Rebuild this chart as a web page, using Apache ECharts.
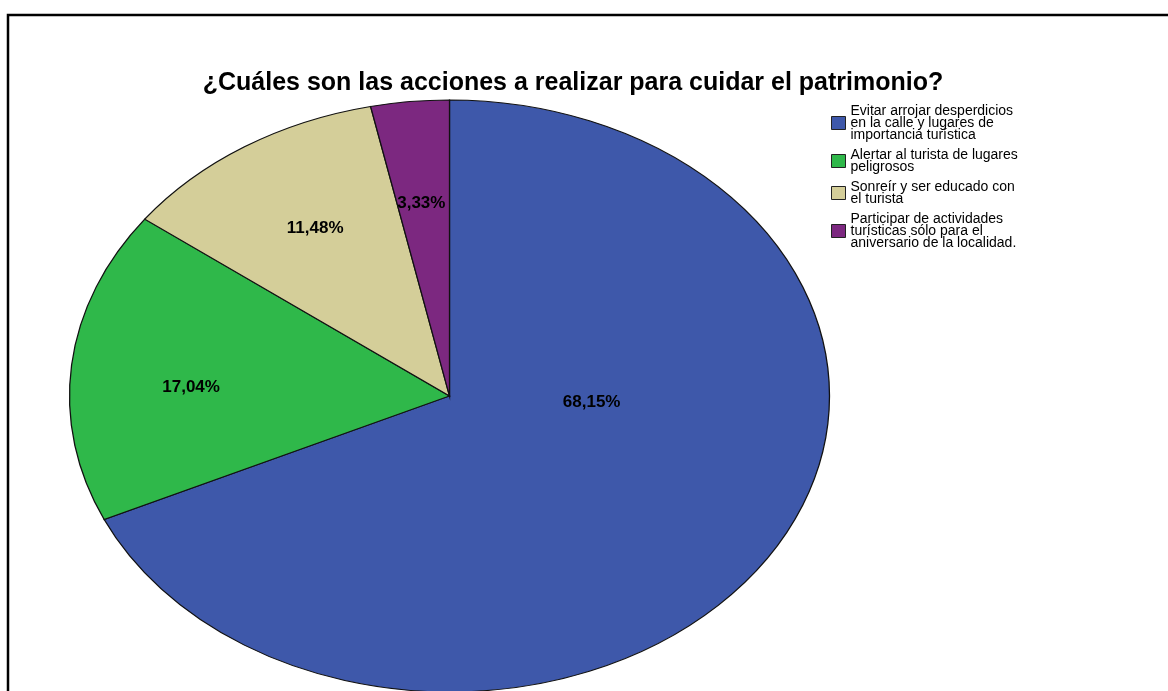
<!DOCTYPE html>
<html>
<head>
<meta charset="utf-8">
<script src="https://cdn.jsdelivr.net/npm/echarts@6/dist/echarts.min.js"></script>
<style>
html,body{margin:0;padding:0;background:#fff;}
#chart{width:1168px;height:691px;}
</style>
</head>
<body>
<div id="chart"></div>
<script>
const titleText = '¿Cuáles son las acciones a realizar para cuidar el patrimonio?';
const categories = [
  'Evitar arrojar desperdicios en la calle y lugares de importancia turística',
  'Alertar al turista de lugares peligrosos',
  'Sonreír y ser educado con el turista',
  'Participar de actividades turísticas sólo para el aniversario de la localidad.'
];
const legendLines = [
  'Evitar arrojar desperdicios\nen la calle y lugares de\nimportancia turística',
  'Alertar al turista de lugares\npeligrosos',
  'Sonreír y ser educado con\nel turista',
  'Participar de actividades\nturísticas sólo para el\naniversario de la localidad.'
];
const values = [68.15, 17.04, 11.48, 3.33];
const valueLabels = ['68,15%', '17,04%', '11,48%', '3,33%'];
const colors = ['#3e58aa', '#2fb84a', '#d4ce99', '#7c2880'];

// geometry (layout, not data)
const CX = 449.5, CY = 396, RX = 380, RY = 296;
const LABEL_F = 0.66;
const labelOffsets = [[-69, -99], [-9, 12], [1, -3], [-2, 2]];

const total = values.reduce((a, b) => a + b, 0);

function makeRender(idx) {
  return function (params, api) {
    const v = api.value(0);
    let before = 0;
    for (let i = 0; i < idx; i++) before += values[i];
    const start = -Math.PI / 2 + 2 * Math.PI * before / total;
    const end = start + 2 * Math.PI * v / total;
    const mid = (start + end) / 2;
    const lx = CX + Math.cos(mid) * RX * LABEL_F + labelOffsets[idx][0];
    const ly = CY + Math.sin(mid) * RY * LABEL_F + labelOffsets[idx][1];
    return {
      type: 'group',
      children: [
        {
          type: 'sector',
          x: CX, y: CY,
          scaleX: RX / RY, scaleY: 1,
          shape: { cx: 0, cy: 0, r0: 0, r: RY, startAngle: start, endAngle: end, clockwise: true },
          style: { fill: colors[idx], stroke: '#111', lineWidth: 1 }
        },
        {
          type: 'text',
          z2: 100,
          style: {
            x: lx, y: ly,
            text: valueLabels[idx],
            fill: '#000',
            fontSize: 17, fontWeight: 'bold', fontFamily: 'Liberation Sans, Arial, sans-serif',
            align: 'center', verticalAlign: 'middle'
          }
        }
      ]
    };
  };
}

const series = categories.map((name, i) => ({
  type: 'custom',
  name: name,
  coordinateSystem: 'none',
  itemStyle: { color: colors[i], borderColor: '#222', borderWidth: 1 },
  renderItem: makeRender(i),
  data: [[values[i]]],
  z: i === 0 ? 2 : 3
}));

const chart = echarts.init(document.getElementById('chart'));
chart.setOption({
  animation: false,
  backgroundColor: '#fff',
  title: {
    text: titleText,
    left: 573, top: 71,
    textAlign: 'center',
    padding: 0,
    textStyle: { fontSize: 25, fontWeight: 'bold', color: '#000', fontFamily: 'Liberation Sans, Arial, sans-serif' }
  },
  legend: {
    orient: 'vertical',
    left: 831, top: 104,
    padding: 0,
    itemGap: 6,
    itemWidth: 14, itemHeight: 13,
    icon: 'rect',
    selectedMode: false,
    itemStyle: { borderColor: '#222', borderWidth: 1 },
    data: categories,
    formatter: function (name) { return legendLines[categories.indexOf(name)]; },
    textStyle: { fontSize: 14, lineHeight: 12, color: '#000', fontFamily: 'Liberation Sans, Arial, sans-serif' }
  },
  graphic: [
    { type: 'rect', shape: { x: 8, y: 15, width: 1400, height: 900 }, style: { fill: 'none', stroke: '#000', lineWidth: 2.5 }, z: 100, silent: true }
  ],
  series: series
});
</script>
</body>
</html>
